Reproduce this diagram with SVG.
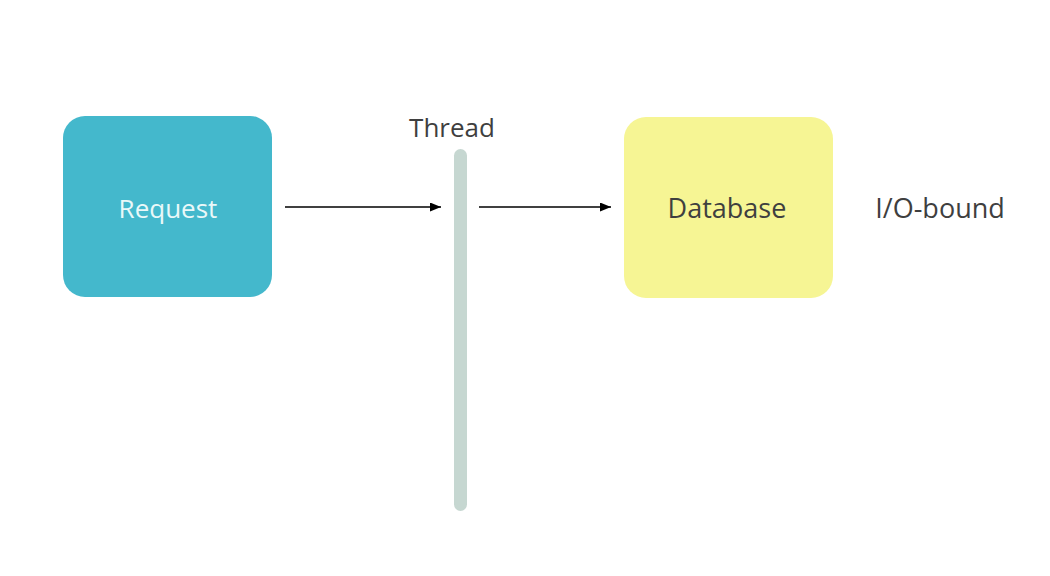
<svg xmlns="http://www.w3.org/2000/svg" width="1050" height="576" viewBox="0 0 1050 576">
  <style>
    .lbl { font-family: "Open Sans", "Liberation Sans", sans-serif; font-size: 27px; fill: #3f3f3f; }
    .conn { stroke: #000; stroke-width: 1.6; fill: none; marker-end: url(#arr); }
  </style>
  <defs>
    <marker id="arr" viewBox="0 0 10 10" refX="10" refY="5" markerWidth="11" markerHeight="9" markerUnits="userSpaceOnUse" orient="auto" preserveAspectRatio="none">
      <path d="M0,0 L10,5 L0,10 z" fill="#000"/>
    </marker>
  </defs>
  <rect width="1050" height="576" fill="#ffffff"/>
  <g id="request">
    <rect x="63" y="116" width="209" height="181" rx="22" fill="#44b8cc"/>
    <text x="168" y="218" text-anchor="middle" class="lbl" style="fill:#eaf8f9;font-size:26px">Request</text>
  </g>
  <g id="thread">
    <rect x="454" y="149" width="13" height="362" rx="6.5" fill="#c6d7d1"/>
    <text x="452" y="137" text-anchor="middle" class="lbl" style="font-size:26px">Thread</text>
  </g>
  <g id="database">
    <rect x="624" y="117" width="209" height="181" rx="22" fill="#f6f594"/>
    <text x="727" y="218" text-anchor="middle" class="lbl">Database</text>
  </g>
  <g id="io-bound">
    <text x="940" y="218" text-anchor="middle" class="lbl">I/O-bound</text>
  </g>
  <g id="connectors">
    <line class="conn" x1="285" y1="207" x2="441" y2="207"/>
    <line class="conn" x1="479" y1="207" x2="611" y2="207"/>
  </g>
</svg>
